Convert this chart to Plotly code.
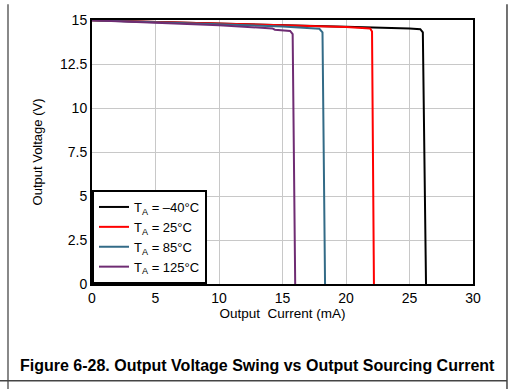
import plotly.graph_objects as go

# Output current (mA) / output voltage (V) per temperature
names = ["T<sub>A</sub> = \u201340\u00b0C", "T<sub>A</sub> = 25\u00b0C",
         "T<sub>A</sub> = 85\u00b0C", "T<sub>A</sub> = 125\u00b0C"]
colors = ["#000000", "#ff0000", "#336b87", "#6f2c73"]

x_m40 = [0, 5, 10, 15, 20, 25, 25.85, 26.05, 26.3]
y_m40 = [14.98, 14.9, 14.81, 14.72, 14.62, 14.52, 14.48, 14.3, 0]
x_25 = [0, 5, 10, 15, 20, 21.9, 22.05, 22.2]
y_25 = [14.98, 14.9, 14.8, 14.7, 14.6, 14.52, 14.35, 0]
x_85 = [0, 5, 10, 15, 17.9, 18.15, 18.35]
y_85 = [14.98, 14.88, 14.76, 14.63, 14.5, 14.3, 0]
x_125 = [0, 5, 10, 14.2, 14.4, 15.6, 15.8, 16.0]
y_125 = [14.98, 14.86, 14.7, 14.52, 14.45, 14.38, 14.2, 0]

xs = [x_m40, x_25, x_85, x_125]
ys = [y_m40, y_25, y_85, y_125]

x_ticks = [0, 5, 10, 15, 20, 25, 30]
y_ticks = [0, 2.5, 5, 7.5, 10, 12.5, 15]
y_tick_labels = ["0", "2.5", "5", "7.5", "10", "12.5", "15"]

fig = go.Figure()
for x, y, n, c in zip(xs, ys, names, colors):
    fig.add_trace(go.Scatter(x=x, y=y, mode="lines", name=n,
                             line=dict(color=c, width=2)))

font = "Liberation Sans, Arial, sans-serif"
fig.update_layout(
    width=515, height=389,
    margin=dict(l=92, r=42, t=14, b=105),
    paper_bgcolor="white", plot_bgcolor="white",
    font=dict(family=font, size=13, color="#000"),
    showlegend=True,
    legend=dict(x=0, y=0, xanchor="left", yanchor="bottom",
                bordercolor="#000", borderwidth=2, bgcolor="white",
                font=dict(size=13), tracegroupgap=0),
    xaxis=dict(range=[0, 30], tickvals=x_ticks, showgrid=True,
               gridcolor="#c8c8c8", gridwidth=1, zeroline=False,
               showline=True, linecolor="#000", linewidth=2, mirror=True,
               ticks="", tickfont=dict(size=14),
               title=dict(text="Output  Current (mA)", standoff=0,
                          font=dict(size=13.5))),
    yaxis=dict(range=[0, 15], tickvals=y_ticks, ticktext=y_tick_labels,
               showgrid=True, gridcolor="#c8c8c8", gridwidth=1, zeroline=False,
               showline=True, linecolor="#000", linewidth=2, mirror=True,
               ticks="", tickfont=dict(size=14),
               title=dict(text="Output Voltage (V)", standoff=14,
                          font=dict(size=13))),
)

fig.add_annotation(text="<b>Figure 6-28. Output Voltage Swing vs Output Sourcing Current</b>",
                   xref="paper", yref="paper", x=0.434, y=-0.307,
                   showarrow=False, font=dict(size=16, family=font),
                   xanchor="center", yanchor="middle")

# page border lines
fig.add_shape(type="line", xref="paper", yref="paper", x0=-0.2205, x1=-0.2205,
              y0=1.06, y1=-0.40, line=dict(color="#888", width=2))
fig.add_shape(type="line", xref="paper", yref="paper", x0=1.0892, x1=1.0892,
              y0=1.06, y1=-0.40, line=dict(color="#444", width=1.5))
fig.add_shape(type="line", xref="paper", yref="paper", x0=-0.25, x1=1.0892,
              y0=-0.3667, y1=-0.3667, line=dict(color="#444", width=1.5))

fig.write_html("out.html", config={"displayModeBar": False},
               post_script="document.body.style.margin='0';document.body.style.overflow='hidden';")
